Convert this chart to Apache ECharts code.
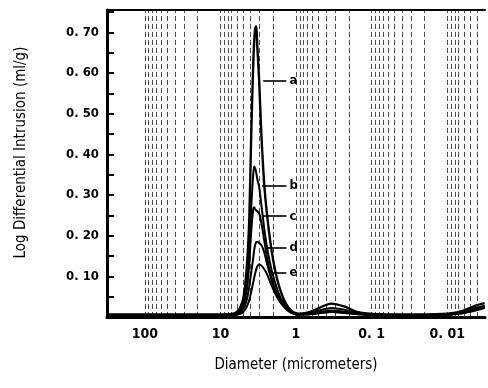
<!DOCTYPE html>
<html>
<head>
<meta charset="utf-8">
<script src="https://cdn.jsdelivr.net/npm/echarts@6/dist/echarts.min.js"></script>
<style>
  html, body { margin: 0; padding: 0; background: #fff; }
  #chart { width: 488px; height: 388px; }
</style>
</head>
<body>
<div id="chart"></div>
<script>
// Pore diameters (micrometers) shared by all five intrusion curves
const diameters = [316, 100, 30, 10, 7.6, 6.35, 5.62, 5.29, 4.98, 4.69, 4.41, 4.15, 3.91, 3.68, 3.57, 3.46, 3.36, 3.26, 3.07, 2.89, 2.64, 2.41, 2.13, 1.89, 1.67, 1.44, 1.24, 1.06, 0.91, 0.67, 0.50, 0.34, 0.23, 0.15, 0.081, 0.024, 0.0098, 0.0062, 0.0042, 0.0032];

// Log differential intrusion (ml/g) for samples a–e
const curveA = [0.006, 0.006, 0.006, 0.006, 0.007, 0.010, 0.020, 0.030, 0.045, 0.080, 0.140, 0.240, 0.450, 0.620, 0.680, 0.710, 0.715, 0.670, 0.580, 0.460, 0.330, 0.250, 0.170, 0.115, 0.075, 0.042, 0.022, 0.011, 0.008, 0.012, 0.022, 0.033, 0.026, 0.012, 0.007, 0.006, 0.008, 0.015, 0.028, 0.034];
const curveB = [0.005, 0.005, 0.005, 0.005, 0.006, 0.009, 0.015, 0.022, 0.035, 0.060, 0.100, 0.170, 0.270, 0.350, 0.370, 0.365, 0.355, 0.340, 0.320, 0.280, 0.220, 0.170, 0.120, 0.085, 0.055, 0.032, 0.017, 0.009, 0.007, 0.010, 0.016, 0.022, 0.018, 0.010, 0.006, 0.005, 0.007, 0.012, 0.022, 0.028];
const curveC = [0.004, 0.004, 0.004, 0.004, 0.005, 0.008, 0.012, 0.018, 0.028, 0.045, 0.075, 0.130, 0.210, 0.265, 0.270, 0.265, 0.262, 0.260, 0.255, 0.235, 0.190, 0.145, 0.100, 0.070, 0.046, 0.027, 0.015, 0.008, 0.006, 0.008, 0.012, 0.016, 0.013, 0.008, 0.005, 0.004, 0.006, 0.011, 0.020, 0.026];
const curveD = [0.004, 0.004, 0.004, 0.004, 0.005, 0.006, 0.009, 0.013, 0.020, 0.030, 0.048, 0.075, 0.110, 0.145, 0.165, 0.178, 0.184, 0.185, 0.182, 0.178, 0.160, 0.130, 0.095, 0.065, 0.043, 0.026, 0.014, 0.008, 0.006, 0.007, 0.010, 0.013, 0.011, 0.007, 0.005, 0.004, 0.006, 0.010, 0.018, 0.024];
const curveE = [0.004, 0.004, 0.004, 0.004, 0.004, 0.005, 0.007, 0.009, 0.013, 0.019, 0.028, 0.042, 0.062, 0.085, 0.097, 0.108, 0.117, 0.124, 0.130, 0.127, 0.118, 0.105, 0.080, 0.058, 0.040, 0.025, 0.014, 0.008, 0.006, 0.007, 0.009, 0.012, 0.010, 0.007, 0.005, 0.004, 0.005, 0.009, 0.016, 0.022];

const curveNames = ['a', 'b', 'c', 'd', 'e'];
const curves = [curveA, curveB, curveC, curveD, curveE];

// Leader lines for the curve letters: [start diameter, end diameter, height]
const leaderStart = [2.72, 2.80, 2.80, 2.48, 2.27];
const leaderEnd = [1.34, 1.34, 1.34, 1.34, 1.34];
const leaderHeight = [0.582, 0.322, 0.248, 0.170, 0.108];

// Axis ticks
const xTickValues = [100, 10, 1, 0.1, 0.01];
const xTickLabels = ['100', '10', '1', '0. 1', '0. 01'];
const yTickValues = [0.1, 0.2, 0.3, 0.4, 0.5, 0.6, 0.7];
const yTickLabels = ['0. 10', '0. 20', '0. 30', '0. 40', '0. 50', '0. 60', '0. 70'];

// Logarithmic grid: 1..9 x each decade
const gridDiameters = [100];
[10, 1, 0.1, 0.01, 0.001].forEach(dec => {
  for (let k = 9; k >= 1; k--) {
    const v = k * dec;
    if (v < 100 && v > 0.0035) gridDiameters.push(v);
  }
});

const FONT = "'Liberation Sans Narrow', 'DejaVu Sans Condensed', 'Liberation Sans', sans-serif";
const lg = d => Math.log10(d);

function findLabel(values, labels, v) {
  for (let i = 0; i < values.length; i++) {
    if (Math.abs(v - values[i]) < 1e-6) return labels[i];
  }
  return '';
}

const series = curves.map((vals, i) => ({
  name: curveNames[i],
  type: 'line',
  smooth: 0.3,
  symbol: 'none',
  z: 5,
  lineStyle: { color: '#000', width: i === 0 ? 2.4 : 2 },
  data: diameters.map((d, j) => [lg(d), vals[j]]),
  markLine: {
    silent: true,
    symbol: 'none',
    animation: false,
    lineStyle: { color: '#000', width: 1.6, type: 'solid' },
    label: {
      show: true,
      position: 'end',
      distance: 3,
      formatter: curveNames[i],
      color: '#000',
      fontSize: 13,
      fontWeight: 'bold',
      fontFamily: FONT
    },
    data: [[
      { coord: [lg(leaderStart[i]), leaderHeight[i]] },
      { coord: [lg(leaderEnd[i]), leaderHeight[i]] }
    ]]
  }
}));

// Vertical log grid lines
series.push({
  type: 'line',
  data: [],
  silent: true,
  z: 1,
  markLine: {
    silent: true,
    symbol: 'none',
    animation: false,
    label: { show: false },
    lineStyle: { color: '#222', width: 1, type: [5, 3], opacity: 0.8 },
    data: gridDiameters.map(d => ({ xAxis: lg(d) }))
  }
});

const chart = echarts.init(document.getElementById('chart'), null, { renderer: 'canvas' });
chart.setOption({
  animation: false,
  backgroundColor: '#fff',
  grid: { left: 107, right: 2, top: 10, bottom: 71, containLabel: false },
  xAxis: [{
    type: 'value',
    min: -2.5,
    max: 2.5,
    interval: 0.5,
    inverse: true,
    name: 'Diameter (micrometers)',
    nameLocation: 'middle',
    nameGap: 41,
    nameTextStyle: { color: '#000', fontSize: 15, fontFamily: FONT },
    axisLine: { show: true, onZero: false, lineStyle: { color: '#000', width: 3 } },
    axisTick: { show: false },
    splitLine: { show: false },
    axisLabel: {
      color: '#000',
      fontSize: 14,
      fontWeight: 'bold',
      fontFamily: FONT,
      margin: 10,
      formatter: v => findLabel(xTickValues.map(lg), xTickLabels, v)
    }
  }, {
    type: 'value',
    position: 'top',
    min: -2.5,
    max: 2.5,
    inverse: true,
    axisLine: { show: true, onZero: false, lineStyle: { color: '#000', width: 2 } },
    axisTick: { show: false },
    axisLabel: { show: false },
    splitLine: { show: false }
  }],
  yAxis: {
    type: 'value',
    min: 0,
    max: 0.755,
    interval: 0.1,
    name: 'Log Differential Intrusion (ml/g)',
    nameLocation: 'middle',
    nameGap: 78,
    nameTextStyle: { color: '#000', fontSize: 15, fontFamily: FONT, padding: [0, 0, 0, 22] },
    axisLine: { show: true, onZero: false, lineStyle: { color: '#000', width: 3 } },
    axisTick: { show: true, inside: true, length: 7, lineStyle: { color: '#000', width: 2 } },
    minorTick: { show: true, splitNumber: 2, length: 7, lineStyle: { color: '#000', width: 2 } },
    splitLine: { show: false },
    axisLabel: {
      color: '#000',
      fontSize: 13,
      fontWeight: 'bold',
      fontFamily: FONT,
      margin: 8,
      formatter: v => findLabel(yTickValues, yTickLabels, v)
    }
  },
  series: series
});
</script>
</body>
</html>
